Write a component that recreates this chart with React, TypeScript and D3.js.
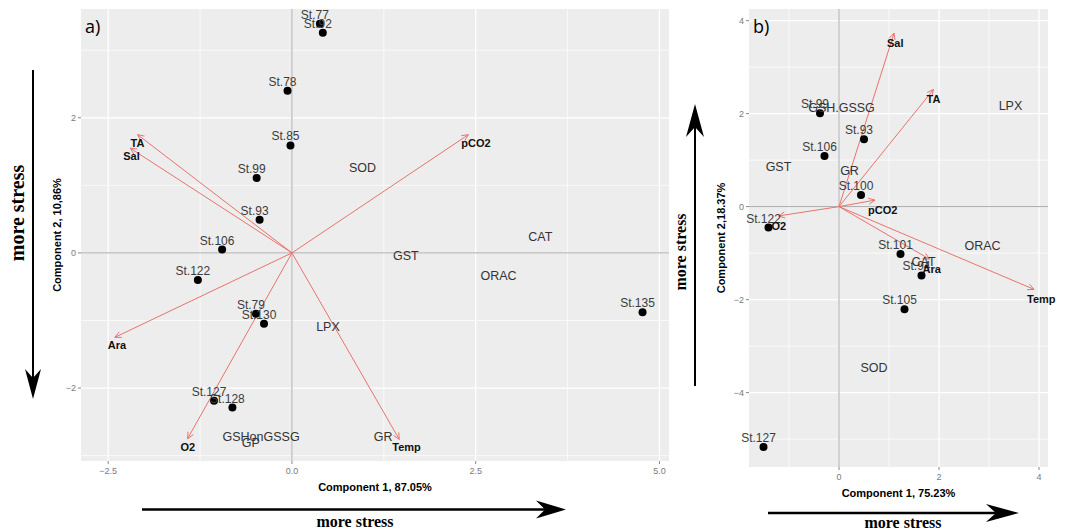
import React from "react";
import * as d3 from "d3";

// ---------- Panel a data ----------
const stationsA = ["St.77", "St.92", "St.78", "St.85", "St.99", "St.93", "St.106", "St.122", "St.79", "St.130", "St.127", "St.128", "St.135"];
const stationsA_pc1 = [0.38, 0.42, -0.06, -0.02, -0.48, -0.44, -0.95, -1.28, -0.49, -0.38, -1.06, -0.81, 4.77];
const stationsA_pc2 = [3.39, 3.26, 2.40, 1.59, 1.11, 0.49, 0.05, -0.40, -0.90, -1.05, -2.19, -2.29, -0.88];

const loadingsA = ["TA", "Sal", "pCO2", "Ara", "O2", "Temp"];
const loadingsA_pc1 = [-2.10, -2.20, 2.40, -2.41, -1.42, 1.46];
const loadingsA_pc2 = [1.75, 1.55, 1.75, -1.25, -2.75, -2.76];

const markersA = ["SOD", "GST", "CAT", "ORAC", "LPX", "GR", "GSHonGSSG", "GP"];
const markersA_pc1 = [0.96, 1.55, 3.38, 2.81, 0.49, 1.24, -0.42, -0.56];
const markersA_pc2 = [1.26, -0.04, 0.24, -0.34, -1.09, -2.71, -2.71, -2.80];

const ticksA_x = [-2.5, 0, 2.5, 5];
const minorA_x = [-1.25, 1.25, 3.75];
const ticksA_y = [-2, 0, 2];
const minorA_y = [-3, -1, 1, 3];

// ---------- Panel b data ----------
const stationsB = ["St.99", "St.93", "St.106", "St.100", "St.122", "St.101", "St.94", "St.105", "St.127"];
const stationsB_pc1 = [-0.38, 0.50, -0.29, 0.44, -1.41, 1.23, 1.65, 1.31, -1.51];
const stationsB_pc2 = [2.01, 1.45, 1.09, 0.25, -0.45, -1.02, -1.48, -2.21, -5.17];

const loadingsB = ["Sal", "TA", "pCO2", "O2", "Ara", "Temp"];
const loadingsB_pc1 = [1.10, 1.89, 0.72, -1.21, 1.81, 3.90];
const loadingsB_pc2 = [3.73, 2.52, 0.14, -0.20, -1.13, -1.78];

const markersB = ["GSH.GSSG", "LPX", "GST", "GR", "ORAC", "CAT", "SOD"];
const markersB_pc1 = [0.05, 3.43, -1.21, 0.21, 2.87, 1.69, 0.70];
const markersB_pc2 = [2.13, 2.17, 0.86, 0.77, -0.84, -1.17, -3.46];

const ticksB_x = [0, 2, 4];
const minorB_x = [-1, 1, 3];
const ticksB_y = [-4, -2, 0, 2, 4];
const minorB_y = [-5, -3, -1, 1, 3];

const SANS = "'Liberation Sans', Arial, sans-serif";
const SERIF = "'Liberation Serif', 'Times New Roman', serif";
const ARROW_RED = "#E8736C";

type PanelProps = {
  left: number; right: number; top: number; bottom: number;
  xDomain: [number, number]; yDomain: [number, number];
  ticksX: number[]; ticksY: number[]; minorX: number[]; minorY: number[];
  fmtX: (v: number) => string; fmtY: (v: number) => string;
  stations: string[]; sx: number[]; sy: number[];
  loadings: string[]; lx: number[]; ly: number[];
  markers: string[]; mx: number[]; my: number[];
  tag: string; xTitle: string; yTitle: string; yTitleX: number; xTitleY: number;
  loadDy: number;
};

function Panel(p: PanelProps) {
  const x = d3.scaleLinear().domain(p.xDomain).range([p.left, p.right]);
  const y = d3.scaleLinear().domain(p.yDomain).range([p.bottom, p.top]);
  const x0 = x(0), y0 = y(0);
  const head = (tx: number, ty: number) => {
    const ang = Math.atan2(ty - y0, tx - x0);
    const L = 7, a = Math.PI / 7;
    const p1 = [tx - L * Math.cos(ang - a), ty - L * Math.sin(ang - a)];
    const p2 = [tx - L * Math.cos(ang + a), ty - L * Math.sin(ang + a)];
    return `M${p1[0]},${p1[1]}L${tx},${ty}L${p2[0]},${p2[1]}`;
  };
  return (
    <g>
      <rect x={p.left} y={p.top} width={p.right - p.left} height={p.bottom - p.top} fill="#EDEDED" />
      {p.minorX.map((v) => (
        <line key={"mx" + v} x1={x(v)} x2={x(v)} y1={p.top} y2={p.bottom} stroke="#fff" strokeWidth={0.7} />
      ))}
      {p.minorY.map((v) => (
        <line key={"my" + v} y1={y(v)} y2={y(v)} x1={p.left} x2={p.right} stroke="#fff" strokeWidth={0.7} />
      ))}
      {p.ticksX.map((v) => (
        <line key={"gx" + v} x1={x(v)} x2={x(v)} y1={p.top} y2={p.bottom} stroke="#fff" strokeWidth={1.3} />
      ))}
      {p.ticksY.map((v) => (
        <line key={"gy" + v} y1={y(v)} y2={y(v)} x1={p.left} x2={p.right} stroke="#fff" strokeWidth={1.3} />
      ))}
      <line x1={x0} x2={x0} y1={p.top} y2={p.bottom} stroke="#A8A8A8" strokeWidth={1} />
      <line y1={y0} y2={y0} x1={p.left} x2={p.right} stroke="#A8A8A8" strokeWidth={1} />
      {p.ticksX.map((v) => (
        <g key={"tx" + v}>
          <line x1={x(v)} x2={x(v)} y1={p.bottom} y2={p.bottom + 3} stroke="#888" strokeWidth={1} />
          <text x={x(v)} y={p.bottom + 13} textAnchor="middle" fontFamily={SANS} fontSize={9} fill="#7A7A7A">{p.fmtX(v)}</text>
        </g>
      ))}
      {p.ticksY.map((v) => (
        <g key={"ty" + v}>
          <line x1={p.left - 3} x2={p.left} y1={y(v)} y2={y(v)} stroke="#888" strokeWidth={1} />
          <text x={p.left - 5} y={y(v) + 3} textAnchor="end" fontFamily={SANS} fontSize={9} fill="#7A7A7A">{p.fmtY(v)}</text>
        </g>
      ))}
      {p.loadings.map((n, i) => {
        const tx = x(p.lx[i]), ty = y(p.ly[i]);
        return (
          <g key={"l" + n}>
            <line x1={x0} y1={y0} x2={tx} y2={ty} stroke={ARROW_RED} strokeWidth={1} />
            <path d={head(tx, ty)} fill="none" stroke={ARROW_RED} strokeWidth={1} />
          </g>
        );
      })}
      {p.stations.map((n, i) => (
        <circle key={"c" + n} cx={x(p.sx[i])} cy={y(p.sy[i])} r={4} fill="#000" />
      ))}
      {p.stations.map((n, i) => (
        <text key={"s" + n} x={x(p.sx[i]) - 5} y={y(p.sy[i]) - 5} textAnchor="middle" fontFamily={SANS} fontSize={12} fill="#3C3C3C">{n}</text>
      ))}
      {p.markers.map((n, i) => (
        <text key={"m" + n} x={x(p.mx[i])} y={y(p.my[i]) + 4.5} textAnchor="middle" fontFamily={SANS} fontSize={12.5} fill="#333">{n}</text>
      ))}
      {p.loadings.map((n, i) => (
        <text key={"lt" + n} x={x(p.lx[i]) - 7} y={y(p.ly[i]) + p.loadDy} textAnchor="start" fontFamily={SANS} fontSize={11} fontWeight="bold" fill="#111">{n}</text>
      ))}
      <text x={p.left + 4} y={p.top + 24} fontFamily={"'Open Sans', 'Liberation Sans', sans-serif"} fontSize={18} fill="#000">{p.tag}</text>
      <text x={(p.left + p.right) / 2} y={p.xTitleY} textAnchor="middle" fontFamily={SANS} fontSize={11} fontWeight="bold" fill="#000">{p.xTitle}</text>
      <text transform={`translate(${p.yTitleX},${(p.top + p.bottom) / 2}) rotate(-90)`} textAnchor="middle" fontFamily={SANS} fontSize={11} fontWeight="bold" fill="#000">{p.yTitle}</text>
    </g>
  );
}

function StressArrow({ x1, y1, x2, y2, w, hl, hw }: { x1: number; y1: number; x2: number; y2: number; w: number; hl: number; hw: number }) {
  const ang = Math.atan2(y2 - y1, x2 - x1);
  const c = Math.cos(ang), s = Math.sin(ang);
  const bx = x2 - hl * c, by = y2 - hl * s;
  const nx = -s, ny = c;
  const mid = [x2 - hl * 0.7 * c, y2 - hl * 0.7 * s];
  const d = `M${x2},${y2}L${bx + nx * hw},${by + ny * hw}L${mid[0]},${mid[1]}L${bx - nx * hw},${by - ny * hw}Z`;
  return (
    <g>
      <line x1={x1} y1={y1} x2={mid[0]} y2={mid[1]} stroke="#000" strokeWidth={w} />
      <path d={d} fill="#000" />
    </g>
  );
}

export default function App() {
  const f1 = (v: number) => d3.format(".1f")(v);
  const fi = (v: number) => d3.format("d")(v);
  return (
    <svg width={1070} height={531} style={{ position: "absolute", left: 0, top: 0, background: "#fff" }}>
      <Panel
        left={81} right={669} top={9} bottom={461}
        xDomain={[-2.87, 5.13]} yDomain={[-3.08, 3.61]}
        ticksX={ticksA_x} ticksY={ticksA_y} minorX={minorA_x} minorY={minorA_y}
        fmtX={f1} fmtY={fi}
        stations={stationsA} sx={stationsA_pc1} sy={stationsA_pc2}
        loadings={loadingsA} lx={loadingsA_pc1} ly={loadingsA_pc2}
        markers={markersA} mx={markersA_pc1} my={markersA_pc2}
        tag="a)" xTitle="Component 1, 87.05%" yTitle="Component 2, 10,86%" yTitleX={61} xTitleY={491}
        loadDy={12}
      />
      <Panel
        left={749} right={1048} top={9} bottom={467}
        xDomain={[-1.8, 4.18]} yDomain={[-5.6, 4.25]}
        ticksX={ticksB_x} ticksY={ticksB_y} minorX={minorB_x} minorY={minorB_y}
        fmtX={fi} fmtY={fi}
        stations={stationsB} sx={stationsB_pc1} sy={stationsB_pc2}
        loadings={loadingsB} lx={loadingsB_pc1} ly={loadingsB_pc2}
        markers={markersB} mx={markersB_pc1} my={markersB_pc2}
        tag="b)" xTitle="Component 1, 75.23%" yTitle="Component 2,18.37%" yTitleX={725} xTitleY={497}
        loadDy={14}
      />
      <StressArrow x1={33} y1={70} x2={33} y2={399} w={2} hl={30} hw={8} />
      <text transform="translate(24,213) rotate(-90)" textAnchor="middle" fontFamily={SERIF} fontWeight="bold" fontSize={20} fill="#000">more stress</text>
      <StressArrow x1={142} y1={509.5} x2={566} y2={509.5} w={2.5} hl={30} hw={9} />
      <text x={355} y={527} textAnchor="middle" fontFamily={SERIF} fontWeight="bold" fontSize={16} fill="#000">more stress</text>
      <StressArrow x1={695} y1={386} x2={695} y2={104} w={2} hl={33} hw={9} />
      <text transform="translate(686,252) rotate(-90)" textAnchor="middle" fontFamily={SERIF} fontWeight="bold" fontSize={16} fill="#000">more stress</text>
      <StressArrow x1={768} y1={513} x2={1019} y2={513} w={2.5} hl={33} hw={9} />
      <text x={903} y={528} textAnchor="middle" fontFamily={SERIF} fontWeight="bold" fontSize={16} fill="#000">more stress</text>
    </svg>
  );
}
